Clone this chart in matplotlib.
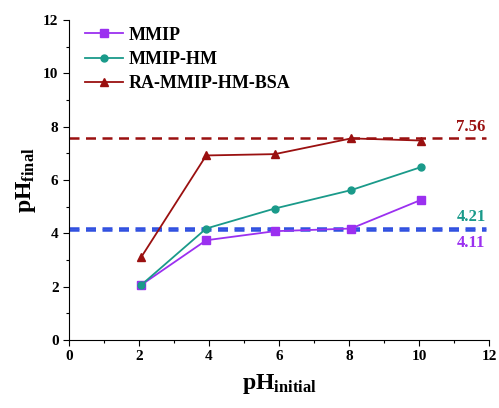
import matplotlib
matplotlib.use('Agg')
import matplotlib.pyplot as plt
from matplotlib.ticker import MultipleLocator

plt.rcParams['font.family'] = 'Liberation Serif'
plt.rcParams['font.weight'] = 'bold'
plt.rcParams['mathtext.fontset'] = 'custom'
plt.rcParams['mathtext.rm'] = 'Liberation Serif:bold'
plt.rcParams['mathtext.bf'] = 'Liberation Serif:bold'

PURPLE = "#9b30f0"
TEAL   = "#1a9a8a"
RED    = "#9a1010"
BLUE   = "#3050e0"

ph_initial = [2.07, 3.92, 5.88, 8.06, 10.05]
mmip       = [2.07, 3.74, 4.08, 4.18, 5.25]
mmip_hm    = [2.07, 4.18, 4.93, 5.62, 6.48]
ra_bsa     = [3.12, 6.92, 6.97, 7.56, 7.48]

# plateau levels
pzc_labels = ["7.56", "4.21", "4.11"]
pzc_values = [7.56, 4.21, 4.11]
pzc_colors = [RED, TEAL, PURPLE]
pzc_lines  = [RED, BLUE, BLUE]

fig = plt.figure(figsize=(4.99, 4.08), dpi=100)
ax = fig.add_axes([0.1383, 0.1667, 0.8417, 0.7843])

for v, lc in zip(pzc_values, pzc_lines):
    ax.plot([0, 11.9], [v, v], ls=(0, (4, 2.6)), color=lc, lw=1.8, zorder=2)

ax.plot(ph_initial, mmip, color=PURPLE, marker='s', ms=5.5, lw=1.3, label='MMIP', zorder=3)
ax.plot(ph_initial, mmip_hm, color=TEAL, marker='o', ms=5, lw=1.3, label='MMIP-HM', zorder=3)
ax.plot(ph_initial, ra_bsa, color=RED, marker='^', ms=6, lw=1.3, label='RA-MMIP-HM-BSA', zorder=3)

ax.text(11.9, 7.68, pzc_labels[0], color=pzc_colors[0], ha='right', va='bottom',
        fontsize=12, fontweight='bold')
ax.text(11.9, 4.62, pzc_labels[1], color=pzc_colors[1], ha='right', va='center',
        fontsize=12, fontweight='bold')
ax.text(11.9, 3.62, pzc_labels[2], color=pzc_colors[2], ha='right', va='center',
        fontsize=12, fontweight='bold')

ax.set_xlim(0, 12)
ax.set_ylim(0, 12)
ax.xaxis.set_major_locator(MultipleLocator(2))
ax.xaxis.set_minor_locator(MultipleLocator(1))
ax.yaxis.set_major_locator(MultipleLocator(2))
ax.yaxis.set_minor_locator(MultipleLocator(1))
ax.tick_params(which='major', direction='out', length=4, width=0.8, labelsize=11)
ax.tick_params(which='minor', direction='out', length=2.5, width=0.8)
for lab in ax.get_xticklabels() + ax.get_yticklabels():
    lab.set_fontweight('bold')

for s in ['top', 'right']:
    ax.spines[s].set_visible(False)
for s in ['left', 'bottom']:
    ax.spines[s].set_linewidth(0.8)

ax.set_xlabel(r'$\mathbf{pH_{initial}}$', fontsize=17, labelpad=6)
ax.set_ylabel(r'$\mathbf{pH_{final}}$', fontsize=17, labelpad=4)

leg = ax.legend(loc='upper left', bbox_to_anchor=(0.0, 1.03), frameon=False,
                handlelength=2.1, handletextpad=0.3, labelspacing=0.4,
                prop={'weight': 'bold', 'size': 13})

plt.savefig("out.png", dpi=100)
plt.close()
